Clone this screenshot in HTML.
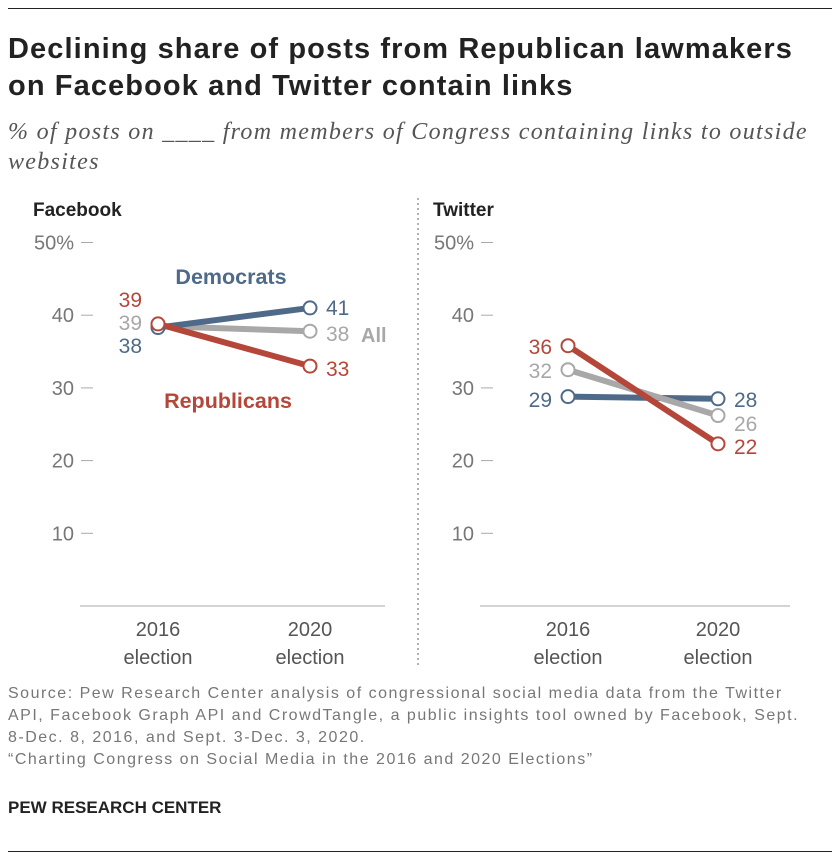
<!DOCTYPE html>
<html><head><meta charset="utf-8"><style>
body{margin:0;background:#fff;font-family:"Liberation Sans",Arial,sans-serif;}
#wrap{position:relative;width:840px;height:862px;overflow:hidden;}
.rule{position:absolute;left:8px;width:824px;height:1px;background:#222;}
</style></head><body>
<div id="wrap">
<div class="rule" style="top:8px"></div>
<div style="position:absolute;left:8px;top:31px;font-size:29px;font-weight:bold;color:#222;line-height:37px;letter-spacing:1.1px;white-space:nowrap">Declining share of posts from Republican lawmakers<br>on Facebook and Twitter contain links</div>
<div style="position:absolute;left:8px;top:117px;font-family:'Liberation Serif',serif;font-style:italic;font-size:24px;color:#555;line-height:30px;letter-spacing:1.3px;white-space:nowrap">% of posts on ____ from members of Congress containing links to outside<br>websites</div>
<svg id="svg" width="840" height="862" style="position:absolute;left:0;top:0"></svg>
<div style="position:absolute;left:8px;top:683px;font-size:16px;color:#777;line-height:22px;letter-spacing:1.5px;white-space:nowrap">Source: Pew Research Center analysis of congressional social media data from the Twitter<br>API, Facebook Graph API and CrowdTangle, a public insights tool owned by Facebook, Sept.<br>8-Dec. 8, 2016, and Sept. 3-Dec. 3, 2020.<br>“Charting Congress on Social Media in the 2016 and 2020 Elections”</div>
<div style="position:absolute;left:8px;top:798px;font-size:17px;font-weight:bold;color:#222">PEW RESEARCH CENTER</div>
<div class="rule" style="top:851px"></div>
</div>
<script>
const years=["2016","2020"];
const ticks=[50,40,30,20,10];
const fbDem=[38.3,41];
const fbRep=[38.8,33];
const fbAll=[38.5,37.8];
const twDem=[28.8,28.5];
const twRep=[35.8,22.3];
const twAll=[32.5,26.2];
const fbDemLab=["38","41"],fbRepLab=["39","33"],fbAllLab=["39","38"];
const twDemLab=["29","28"],twRepLab=["36","22"],twAllLab=["32","26"];
const C={dem:"#4f6a88",rep:"#b5473a",all:"#a8a8a8"};
const svg=document.getElementById('svg');
const NS="http://www.w3.org/2000/svg";
function y(v){return 606-v*7.27;}
function mk(tag,at,txt){const e=document.createElementNS(NS,tag);for(const k in at)e.setAttribute(k,at[k]);if(txt!==undefined)e.textContent=txt;svg.appendChild(e);return e;}
function panel(name,x0,x1,xs,axX,dem,rep,all,dl,rl,al,order,lblL,lblR){
  const t=mk('text',{x:x0-47,y:216,'font-size':19,'font-weight':'bold',fill:'#222'},name);
  
  
  ticks.forEach(v=>{
    const l=mk('text',{x:axX,y:y(v)+7,'font-size':20,fill:'#777','text-anchor':'end'},v+(v===50?'%':''));
    
    
    const g=mk('line',{x1:axX+7,x2:axX+19,y1:y(v),y2:y(v),stroke:'#aaa','stroke-width':1});
    
    
  });
  const b=mk('line',{x1:x0,x2:x1,y1:606,y2:606,stroke:'#aaa','stroke-width':1});
  
  
  years.forEach((yr,i)=>{
    const a=mk('text',{x:xs[i],y:636,'font-size':20,fill:'#555','text-anchor':'middle'},yr);
    
    
    const c=mk('text',{x:xs[i],y:664,'font-size':20,fill:'#555','text-anchor':'middle'},'election');
    
    
  });
  const S={dem:dem,rep:rep,all:all};
  order.forEach(k=>{
    const p=mk('line',{x1:xs[0],y1:y(S[k][0]),x2:xs[1],y2:y(S[k][1]),stroke:C[k],'stroke-width':6});
    
    
  });
  order.forEach(k=>{
    S[k].forEach((v,i)=>{
      const c=mk('circle',{cx:xs[i],cy:y(v),r:6.5,fill:'#fff',stroke:C[k],'stroke-width':2});
      
      
    });
  });
  const L={dem:dl,rep:rl,all:al};
  lblL.forEach(o=>{
    const t=mk('text',{x:xs[0]-16,y:o[1],'font-size':21,fill:C[o[0]],'text-anchor':'end'},L[o[0]][0]);
    
    
  });
  lblR.forEach(o=>{
    const t=mk('text',{x:xs[1]+16,y:o[1],'font-size':21,fill:C[o[0]]},L[o[0]][1]);
    
    
  });
}
panel('Facebook',80,385,[158,310],74,fbDem,fbRep,fbAll,fbDemLab,fbRepLab,fbAllLab,['all','dem','rep'],
  [['rep',307],['all',330],['dem',353]],[['dem',315],['all',341],['rep',376]]);
panel('Twitter',480,790,[568,718],474,twDem,twRep,twAll,twDemLab,twRepLab,twAllLab,['dem','all','rep'],
  [['rep',354],['all',378],['dem',407]],[['dem',407],['all',431],['rep',454]]);
const sep=mk('line',{x1:418,x2:418,y1:198,y2:668,stroke:'#999','stroke-width':1.5,'stroke-dasharray':'2,3'});


const l1=mk('text',{x:231,y:284,'font-size':21.5,'font-weight':'bold',fill:C.dem,'text-anchor':'middle'},'Democrats');


const l2=mk('text',{x:228,y:408,'font-size':21.5,'font-weight':'bold',fill:C.rep,'text-anchor':'middle'},'Republicans');


const l3=mk('text',{x:361,y:342,'font-size':20,'font-weight':'bold',fill:C.all},'All');


</script>
</body></html>
